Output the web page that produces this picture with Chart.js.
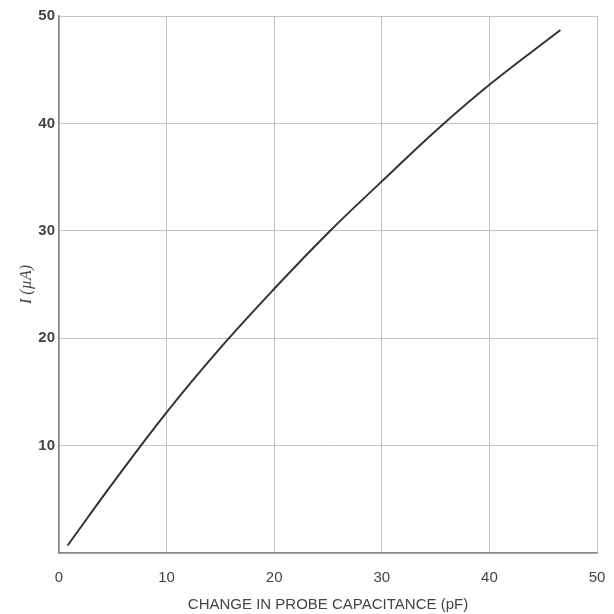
<html lang="en">
<head>
  <meta charset="UTF-8">
  <title>Probe capacitance</title>
  <script src="https://cdn.jsdelivr.net/npm/chart.js"></script>
  <style>
    html, body { margin: 0; padding: 0; background: #fff; }
    #wrap { width: 614px; height: 614px; }
  </style>
</head>
<body>
  <div id="wrap"><canvas id="chart"></canvas></div>
  <script>
    // values
    const capacitance = [0.8, 5, 10, 15, 20, 25, 30, 35, 40, 46.6];
    const current = [0.7, 6.5, 13.1, 19.1, 24.6, 29.8, 34.6, 39.3, 43.6, 48.7];
    const xTicks = [0, 10, 20, 30, 40, 50];
    const yTicks = [0, 10, 20, 30, 40, 50];

    const points = capacitance.map((c, i) => ({ x: c, y: current[i] }));

    const ctx = document.getElementById('chart').getContext('2d');
    new Chart(ctx, {
      type: 'line',
      data: {
        datasets: [{
          data: points,
          borderColor: '#333',
          borderWidth: 2,
          pointRadius: 0,
          fill: false,
          tension: 0.4
        }]
      },
      options: {
        responsive: true,
        maintainAspectRatio: false,
        animation: false,
        layout: { padding: { top: 16, right: 17, left: 0, bottom: 0 } },
        plugins: { legend: { display: false }, tooltip: { enabled: false } },
        scales: {
          x: {
            type: 'linear',
            min: 0,
            max: 50,
            afterBuildTicks: (s) => { s.ticks = xTicks.map(v => ({ value: v })); },
            afterFit: (s) => { s.height = 61; s.paddingLeft = 0; s.paddingRight = 0; },
            grid: { color: '#c4c4c4', lineWidth: 1, drawTicks: false },
            border: { color: '#888', width: 1.5 },
            ticks: { color: '#444', padding: 16, font: { family: 'Liberation Sans', size: 15 } },
            title: {
              display: true,
              text: 'CHANGE IN PROBE CAPACITANCE (pF)',
              color: '#444',
              font: { family: 'Liberation Sans', size: 15 },
              padding: { top: 6, bottom: 0 }
            }
          },
          y: {
            min: 0,
            max: 50,
            afterBuildTicks: (s) => { s.ticks = yTicks.map(v => ({ value: v })); },
            afterFit: (s) => { s.width = 59; },
            grid: { color: '#c4c4c4', lineWidth: 1, drawTicks: false },
            border: { color: '#888', width: 1.5 },
            ticks: {
              color: '#444',
              padding: 4,
              font: { family: 'Liberation Sans', size: 15, weight: 'bold' },
              callback: (v) => v === 0 ? '' : v
            },
            title: {
              display: true,
              text: 'I (\u00b5A)',
              color: '#444',
              font: { family: 'Liberation Serif', size: 16, style: 'italic' },
              padding: { top: 17, bottom: 0 }
            }
          }
        }
      }
    });
  </script>
</body>
</html>
